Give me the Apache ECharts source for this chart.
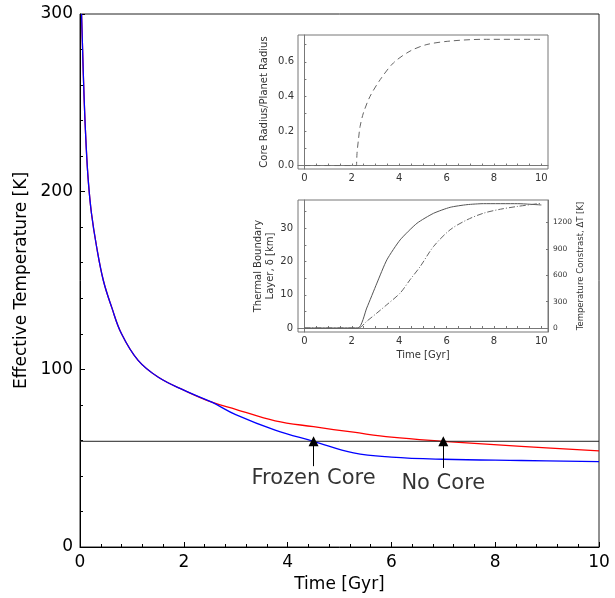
<!DOCTYPE html>
<html>
<head>
<meta charset="utf-8">
<script src="https://cdn.jsdelivr.net/npm/echarts@6/dist/echarts.min.js"></script>
<style>
  html, body { margin: 0; padding: 0; background: #fff; }
  #chart { width: 615px; height: 598px; }
</style>
</head>
<body>
<div id="chart"></div>
<script>
// main panel: effective temperature
var timeBlue = [0.03, 0.05, 0.08, 0.12, 0.16, 0.22, 0.32, 0.45, 0.61, 0.80, 1.12, 1.51, 2.02, 2.54, 3.0, 3.76, 4.5, 5.27, 6.0, 7.0, 8.5, 10];
var tempBlue = [300, 280, 252, 225, 206, 188, 169, 150, 135, 120, 105, 95.5, 88, 81.5, 74.5, 65.8, 59.5, 53, 50.6, 49.4, 48.7, 48.1];
var timeRed = [0.03, 0.05, 0.08, 0.12, 0.16, 0.22, 0.32, 0.45, 0.61, 0.80, 1.12, 1.51, 2.02, 2.54, 3.0, 3.76, 4.5, 5.27, 6.0, 7.0, 8.5, 10];
var tempRed = [300, 280, 252, 225, 206, 188, 169, 150, 135, 120, 105, 95.5, 88, 81.5, 77.5, 71, 67.7, 64.6, 61.8, 59.5, 56.6, 54.1];
var thresholdTemp = 59.5;
var notes = ['Frozen Core', 'No Core'];
var noteTime = [4.5, 7.0];
var noteTextTemp = [38.8, 35.5];
var arrowTail = [45.5, 44.5];

// inset 1: core radius
var timeCore = [0, 2.2, 2.21, 2.22, 2.28, 2.35, 2.49, 2.77, 3.2, 3.76, 4.46, 5.17, 6.15, 7.56, 10];
var coreRadius = [0, 0, 0, 0.07, 0.149, 0.226, 0.304, 0.40, 0.497, 0.594, 0.662, 0.70, 0.72, 0.73, 0.73];

// inset 2: boundary layer and temperature contrast
var timeDelta = [0, 2.26, 2.63, 3.06, 3.48, 4.04, 4.75, 5.45, 6.15, 6.86, 7.56, 9.0, 10];
var delta = [0, 0, 6, 13.5, 20.5, 26.5, 31.5, 34.5, 36.3, 37.1, 37.4, 37.4, 37.0];
var timeDT = [0, 2.28, 2.63, 3.06, 3.48, 4.04, 4.46, 4.89, 5.45, 6.15, 6.86, 7.56, 8.27, 8.97, 10];
var deltaT = [0, 0, 76, 170, 265, 397, 549, 700, 927, 1117, 1230, 1306, 1351, 1382, 1419];

var insetTimeTicks = [0, 2, 4, 6, 8, 10];
var insetTimeMinor = [0, 0.5, 1, 1.5, 2, 2.5, 3, 3.5, 4, 4.5, 5, 5.5, 6, 6.5, 7, 7.5, 8, 8.5, 9, 9.5, 10];
var coreTicks = [0, 0.2, 0.4, 0.6];
var deltaTicks = [0, 10, 20, 30];
var contrastTicks = [0, 300, 600, 900, 1200];

function zip(a, b) {
    var out = [];
    for (var i = 0; i < a.length; i++) out.push([a[i], b[i]]);
    return out;
}

var font = 'DejaVu Sans';
var insetColor = '#777';
var insetLabel = { fontFamily: font, fontSize: 10, color: '#333' };

function insetX(grid, showName) {
    return {
        type: 'value', gridIndex: grid, min: -0.27, max: 10.28,
        name: showName ? 'Time [Gyr]' : '', nameLocation: 'middle', nameGap: 18,
        nameTextStyle: { fontFamily: font, fontSize: 10, color: '#333' },
        axisLine: { show: true, lineStyle: { color: insetColor } },
        axisTick: { show: true, inside: true, length: 2, customValues: insetTimeMinor, lineStyle: { color: insetColor } },
        axisLabel: Object.assign({ customValues: insetTimeTicks, margin: 4 }, insetLabel),
        splitLine: { show: false }
    };
}

var myChart = echarts.init(document.getElementById('chart'));
var option = {
    backgroundColor: '#fff',
    animation: false,
    grid: [
        { left: 80, top: 14, width: 519, height: 533, show: true, borderColor: '#222', borderWidth: 1 },
        { left: 298, top: 35, width: 250, height: 134, show: true, borderColor: insetColor, borderWidth: 1 },
        { left: 298, top: 200, width: 250, height: 132, show: true, borderColor: insetColor, borderWidth: 1 }
    ],
    xAxis: [
        {
            type: 'value', gridIndex: 0, min: 0, max: 10, interval: 2,
            name: 'Time [Gyr]', nameLocation: 'middle', nameGap: 29,
            nameTextStyle: { fontFamily: font, fontSize: 17, color: '#000' },
            axisLine: { show: true, lineStyle: { color: '#000' } },
            axisTick: { show: true, inside: true, length: 5, lineStyle: { color: '#000' } },
            minorTick: { show: true, splitNumber: 5, length: 3, lineStyle: { color: '#000' } },
            axisLabel: { fontFamily: font, fontSize: 17, color: '#000', margin: 7 },
            splitLine: { show: false }
        },
        insetX(1, false),
        insetX(2, true)
    ],
    yAxis: [
        {
            type: 'value', gridIndex: 0, min: 0, max: 300, interval: 100,
            name: 'Effective Temperature [K]', nameLocation: 'middle', nameGap: 49,
            nameTextStyle: { fontFamily: font, fontSize: 17, color: '#000' },
            axisLine: { show: true, lineStyle: { color: '#000' } },
            axisTick: { show: true, inside: true, length: 5, lineStyle: { color: '#000' } },
            minorTick: { show: true, splitNumber: 5, length: 3, lineStyle: { color: '#000' } },
            axisLabel: { fontFamily: font, fontSize: 17, color: '#000', margin: 7 },
            splitLine: { show: false }
        },
        {
            type: 'value', gridIndex: 1, min: -0.02, max: 0.755,
            name: 'Core Radius/Planet Radius', nameLocation: 'middle', nameGap: 29,
            nameTextStyle: { fontFamily: font, fontSize: 10, color: '#333' },
            axisLine: { show: true, lineStyle: { color: insetColor } },
            axisTick: { show: true, inside: true, length: 2, customValues: [0, 0.1, 0.2, 0.3, 0.4, 0.5, 0.6, 0.7], lineStyle: { color: insetColor } },
            axisLabel: Object.assign({ customValues: coreTicks, margin: 4, formatter: function (v) { return v.toFixed(1); } }, insetLabel),
            splitLine: { show: false }
        },
        {
            type: 'value', gridIndex: 2, min: -1.2, max: 38.5,
            name: 'Thermal Boundary\nLayer, δ [km]', nameLocation: 'middle', nameGap: 20,
            nameTextStyle: { fontFamily: font, fontSize: 10, color: '#333', lineHeight: 12 },
            axisLine: { show: true, lineStyle: { color: insetColor } },
            axisTick: { show: true, inside: true, length: 2, customValues: [0, 5, 10, 15, 20, 25, 30, 35], lineStyle: { color: insetColor } },
            axisLabel: Object.assign({ customValues: deltaTicks, margin: 5 }, insetLabel),
            splitLine: { show: false }
        },
        {
            type: 'value', gridIndex: 2, position: 'right', min: -46, max: 1456,
            name: 'Temperature Constrast, ΔT [K]', nameLocation: 'middle', nameGap: 26,
            nameRotate: 90,
            nameTextStyle: { fontFamily: font, fontSize: 8.5, color: '#333' },
            axisLine: { show: true, lineStyle: { color: insetColor } },
            axisTick: { show: true, inside: true, length: 2, customValues: contrastTicks, lineStyle: { color: insetColor } },
            axisLabel: { customValues: contrastTicks, margin: 5, fontFamily: font, fontSize: 7.5, color: '#333', formatter: function (v) { return String(v); } },
            splitLine: { show: false }
        }
    ],
    series: [
        {
            type: 'line', xAxisIndex: 0, yAxisIndex: 0, data: zip(timeRed, tempRed),
            showSymbol: false, smooth: 0.4,
            lineStyle: { color: '#ff0000', width: 1.3 }, z: 2
        },
        {
            type: 'line', xAxisIndex: 0, yAxisIndex: 0, data: zip(timeBlue, tempBlue),
            showSymbol: false, smooth: 0.4,
            lineStyle: { color: '#0000ff', width: 1.3 }, z: 3
        },
        {
            type: 'line', xAxisIndex: 0, yAxisIndex: 0, data: [[0, thresholdTemp], [10, thresholdTemp]],
            showSymbol: false, lineStyle: { color: '#222', width: 1 }, z: 4
        },
        {
            type: 'lines', coordinateSystem: 'cartesian2d', xAxisIndex: 0, yAxisIndex: 0,
            data: noteTime.map(function (t, i) { return { coords: [[t, arrowTail[i]], [t, thresholdTemp]] }; }),
            symbol: ['none', 'triangle'], symbolSize: 10,
            lineStyle: { color: '#000', width: 1, opacity: 1 }, z: 5
        },
        {
            type: 'scatter', xAxisIndex: 0, yAxisIndex: 0, symbolSize: 0,
            data: notes.map(function (n, i) { return { name: n, value: [noteTime[i], noteTextTemp[i]] }; }),
            label: { show: true, position: [0, 0], align: 'center', verticalAlign: 'middle', formatter: '{b}', fontFamily: font, fontSize: 21, color: '#000' },
            z: 5
        },
        {
            type: 'line', xAxisIndex: 1, yAxisIndex: 1, data: zip(timeCore, coreRadius),
            showSymbol: false, smooth: 0.3,
            lineStyle: { color: '#666', width: 1, type: [6, 4] }
        },
        {
            type: 'line', xAxisIndex: 2, yAxisIndex: 2, data: zip(timeDelta, delta),
            showSymbol: false, smooth: 0.2,
            lineStyle: { color: '#555', width: 1 }
        },
        {
            type: 'line', xAxisIndex: 2, yAxisIndex: 3, data: zip(timeDT, deltaT),
            showSymbol: false, smooth: 0.3,
            lineStyle: { color: '#666', width: 1, type: [6, 2, 1, 2] }
        }
    ]
};
myChart.setOption(option);
</script>
</body>
</html>
